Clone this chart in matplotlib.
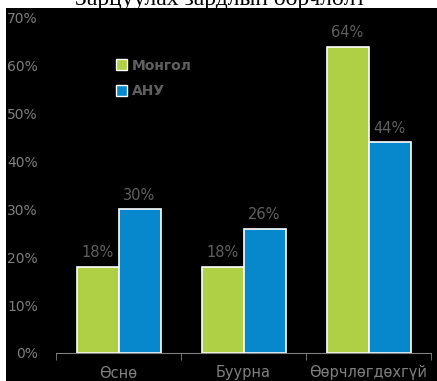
import numpy as np
import matplotlib
matplotlib.use("Agg")
import matplotlib.pyplot as plt
from matplotlib.patches import Patch

categories = ["Өснө", "Буурна", "Өөрчлөгдөхгүй"]
mongol = [18, 18, 64]
usa = [30, 26, 44]
series_names = ["Монгол", "АНУ"]
title = "Зарцуулах зардлын өөрчлөлт"

GREEN = "#AFD045"
BLUE = "#0788CC"
GRAY = "#7F7F7F"
LABEL_GRAY = "#5F5F5F"

plt.rcParams["font.family"] = ["DejaVu Sans"]

W, H = 437, 381
fig = plt.figure(figsize=(W / 100, H / 100), dpi=100, facecolor="white")

# black panel behind the chart
bg = fig.add_axes([6 / W, 0, 1 - 6 / W, (H - 8) / H])
bg.set_facecolor("black")
bg.set_xticks([])
bg.set_yticks([])
for s in bg.spines.values():
    s.set_visible(False)

# title, cut off at top edge as in the source
fig.text(220 / W, 1 - 4.5 / H, title, ha="center", va="baseline",
         fontsize=17, family="Liberation Serif", color="black")

ax = fig.add_axes([56 / W, 28 / H, 375 / W, 335 / H])
ax.set_facecolor("none")
x = np.arange(len(categories))
w = 0.336
b1 = ax.bar(x - w / 2, np.array(mongol) / 100, w, color=GREEN,
            edgecolor="white", linewidth=1.2, label=series_names[0])
b2 = ax.bar(x + w / 2, np.array(usa) / 100, w, color=BLUE,
            edgecolor="white", linewidth=1.2, label=series_names[1])

for bars, vals in [(b1, mongol), (b2, usa)]:
    for r, v in zip(bars, vals):
        ax.text(r.get_x() + r.get_width() / 2, v / 100 + 0.014, f"{v}%",
                ha="center", va="bottom", fontsize=10.5, color=LABEL_GRAY)

ax.set_ylim(0, 0.7)
ax.set_xlim(-0.5, 2.5)
ax.set_yticks(np.arange(0, 0.71, 0.1))
ax.set_yticklabels([f"{int(round(t * 100))}%" for t in np.arange(0, 0.71, 0.1)])
ax.tick_params(axis="y", length=0, colors=GRAY, labelsize=10, pad=13)

ax.set_xticks(x)
ax.set_xticklabels(categories)
ax.tick_params(axis="x", length=0, colors=GRAY, labelsize=10.5, pad=9)
ax.set_xticks([-0.5, 0.5, 1.5, 2.5], minor=True)
ax.tick_params(axis="x", which="minor", length=5, color=GRAY, direction="out")

for s in ["top", "right", "left"]:
    ax.spines[s].set_visible(False)
ax.spines["bottom"].set_color(GRAY)

handles = [Patch(facecolor=GREEN, edgecolor="white", linewidth=1),
           Patch(facecolor=BLUE, edgecolor="white", linewidth=1)]
leg = fig.legend(handles, series_names, loc="upper left",
                 bbox_to_anchor=(103 / W, 1 - 46 / H), frameon=False,
                 handlelength=0.8, handleheight=0.8, handletextpad=0.35,
                 labelspacing=0.85, prop={"size": 10, "weight": "bold"})
for t in leg.get_texts():
    t.set_color(LABEL_GRAY)

fig.savefig("out.png", dpi=100, facecolor="white")
